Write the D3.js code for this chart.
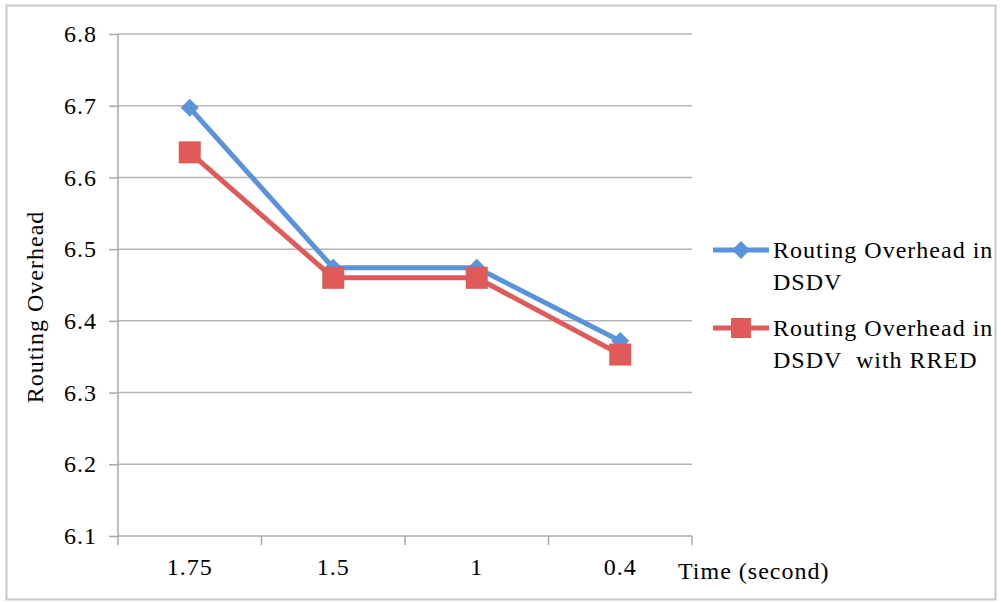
<!DOCTYPE html>
<html><head><meta charset="utf-8">
<script src="https://cdn.jsdelivr.net/npm/d3@7"></script>
<style>body{margin:0;background:#fff}svg{display:block}</style>
</head><body>
<svg id="c" width="1001" height="603"></svg>
<script>
const categories = ["1.75", "1.5", "1", "0.4"];
const dsdv = [6.697, 6.474, 6.474, 6.372];
const rred = [6.635, 6.460, 6.460, 6.353];
const yTicks = [6.1, 6.2, 6.3, 6.4, 6.5, 6.6, 6.7, 6.8];
const seriesNames = [["Routing Overhead in", "DSDV"], ["Routing Overhead in", "DSDV  with RRED"]];

const FONT = "'Liberation Serif', 'Times New Roman', Times, Tinos, 'DejaVu Serif', serif";
const svg = d3.select("#c");
const L = 118, R = 692, T = 34, B = 536;
function styleText(sel) {
  return sel.attr("fill", "#000").style("font-family", FONT).style("font-size", "24px").style("letter-spacing", "1px");
}
svg.append("rect").attr("x", 6.5).attr("y", 5.5).attr("width", 989).attr("height", 594)
  .attr("fill", "#fff").attr("stroke", "#c8c8c8").attr("stroke-width", 2);

const x = d3.scaleBand().domain(categories).range([L, R]);
const y = d3.scaleLinear().domain([6.1, 6.8]).range([B, T]);

svg.append("g").selectAll("line").data(yTicks.slice(1)).join("line")
  .attr("x1", L).attr("x2", R).attr("y1", d => y(d)).attr("y2", d => y(d))
  .attr("stroke", "#b4b4b4").attr("stroke-width", 1.5);

const ya = svg.append("g").attr("transform", `translate(${L},0)`)
  .call(d3.axisLeft(y).tickValues(yTicks).tickFormat(d3.format(".1f")).tickSize(9).tickPadding(12));
ya.attr("font-family", null);
ya.select(".domain").attr("stroke", "#a8a8a8").attr("stroke-width", 1.5).attr("d", `M0,${T}V${B}`);
ya.selectAll(".tick line").attr("stroke", "#a8a8a8").attr("stroke-width", 1.5);
styleText(ya.selectAll("text"));

const xa = svg.append("g").attr("transform", `translate(0,${B})`)
  .call(d3.axisBottom(x).tickSize(0).tickPadding(22));
xa.attr("font-family", null);
xa.select(".domain").attr("stroke", "#a8a8a8").attr("stroke-width", 1.5).attr("d", `M${L},0H${R}`);
styleText(xa.selectAll("text"));
const bounds = categories.map(c => x(c)).concat([R]);
xa.append("g").selectAll("line").data(bounds).join("line")
  .attr("x1", d => d).attr("x2", d => d).attr("y1", 0).attr("y2", 9)
  .attr("stroke", "#a8a8a8").attr("stroke-width", 1.5);

styleText(svg.append("text").attr("x", 678).attr("y", 579)).text("Time (second)");
styleText(svg.append("text").attr("transform", `translate(43,307) rotate(-90)`)
  .attr("text-anchor", "middle")).text("Routing Overhead");

const cx = d => x(d) + x.bandwidth() / 2;
const colors = ["#5b93da", "#e05a5a"];
const line = d3.line().x(d => cx(d.c)).y(d => y(d.v));
const data = [dsdv, rred].map(s => s.map((v, i) => ({ c: categories[i], v })));

data.forEach((s, k) => {
  svg.append("path").datum(s).attr("d", line).attr("fill", "none")
    .attr("stroke", colors[k]).attr("stroke-width", 5).attr("stroke-linejoin", "round");
});
const diamond = "M0,-9L9,0L0,9L-9,0Z";
svg.append("g").selectAll("path").data(data[0]).join("path")
  .attr("d", diamond).attr("transform", d => `translate(${cx(d.c)},${y(d.v)})`).attr("fill", colors[0]);
svg.append("g").selectAll("rect").data(data[1]).join("rect")
  .attr("x", d => cx(d.c) - 11).attr("y", d => y(d.v) - 11).attr("width", 22).attr("height", 22).attr("fill", colors[1]);

const legY = [250, 328];
legY.forEach((ly, k) => {
  svg.append("line").attr("x1", 713).attr("x2", 769).attr("y1", ly).attr("y2", ly)
    .attr("stroke", colors[k]).attr("stroke-width", 5);
  if (k === 0) svg.append("path").attr("d", diamond).attr("transform", `translate(741,${ly})`).attr("fill", colors[0]);
  else svg.append("rect").attr("x", 731).attr("y", ly - 10).attr("width", 20).attr("height", 20).attr("fill", colors[1]);
  seriesNames[k].forEach((t, j) => {
    styleText(svg.append("text").attr("x", 773).attr("y", ly + 8 + j * 32))
      .style("white-space", "pre").text(t);
  });
});
</script>
</body></html>
